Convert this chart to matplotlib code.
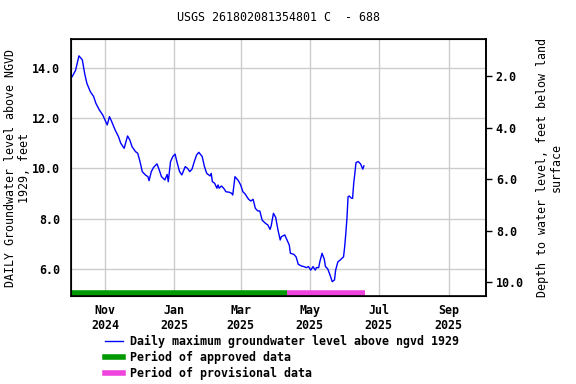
import matplotlib
matplotlib.use("Agg")
import matplotlib.pyplot as plt
import matplotlib.dates as mdates
from matplotlib.lines import Line2D
import pandas as pd

# daily maximum groundwater level above NGVD 1929
dates = ['2024-10-03', '2024-10-06', '2024-10-09', '2024-10-12', '2024-10-14', '2024-10-16',
         '2024-10-19', '2024-10-22', '2024-10-24', '2024-10-27', '2024-10-30', '2024-11-01',
         '2024-11-03', '2024-11-05', '2024-11-07', '2024-11-10', '2024-11-13', '2024-11-15',
         '2024-11-18', '2024-11-21', '2024-11-23', '2024-11-25', '2024-11-28', '2024-11-30',
         '2024-12-02', '2024-12-04', '2024-12-07', '2024-12-09', '2024-12-10', '2024-12-12',
         '2024-12-14', '2024-12-17', '2024-12-19', '2024-12-21', '2024-12-24', '2024-12-26',
         '2024-12-27', '2024-12-29', '2024-12-31', '2025-01-02', '2025-01-04', '2025-01-06',
         '2025-01-08', '2025-01-11', '2025-01-13', '2025-01-15', '2025-01-17', '2025-01-19',
         '2025-01-21', '2025-01-23', '2025-01-26', '2025-01-28', '2025-01-30', '2025-02-02',
         '2025-02-03', '2025-02-04', '2025-02-06', '2025-02-08', '2025-02-09', '2025-02-10',
         '2025-02-12', '2025-02-14', '2025-02-16', '2025-02-19', '2025-02-21', '2025-02-22',
         '2025-02-24', '2025-02-27', '2025-03-01', '2025-03-03', '2025-03-05', '2025-03-08',
         '2025-03-10', '2025-03-12', '2025-03-14', '2025-03-16', '2025-03-18', '2025-03-20',
         '2025-03-23', '2025-03-25', '2025-03-27', '2025-03-28', '2025-03-30', '2025-04-01',
         '2025-04-03', '2025-04-05', '2025-04-06', '2025-04-09', '2025-04-11', '2025-04-13',
         '2025-04-14', '2025-04-17', '2025-04-19', '2025-04-21', '2025-04-24', '2025-04-26',
         '2025-04-28', '2025-04-30', '2025-05-02', '2025-05-04', '2025-05-06', '2025-05-07',
         '2025-05-09', '2025-05-10', '2025-05-12', '2025-05-14', '2025-05-15', '2025-05-17',
         '2025-05-19', '2025-05-21', '2025-05-23', '2025-05-24', '2025-05-26', '2025-05-28',
         '2025-05-31', '2025-06-01', '2025-06-02', '2025-06-03', '2025-06-04', '2025-06-05',
         '2025-06-07', '2025-06-08', '2025-06-09', '2025-06-10', '2025-06-11', '2025-06-13',
         '2025-06-15', '2025-06-17', '2025-06-18']
levels = [13.65, 13.90, 14.48, 14.32, 13.79, 13.39,
          13.06, 12.86, 12.59, 12.33, 12.13, 11.93,
          11.73, 12.06, 11.86, 11.53, 11.26, 11.00,
          10.80, 11.29, 11.13, 10.86, 10.67, 10.60,
          10.27, 9.87, 9.73, 9.67, 9.51, 9.87,
          10.04, 10.18, 9.94, 9.67, 9.54, 9.76,
          9.47, 10.27, 10.47, 10.57, 10.20, 9.87,
          9.74, 10.07, 10.00, 9.87, 9.97, 10.27,
          10.53, 10.64, 10.47, 10.07, 9.80, 9.70,
          9.80, 9.47, 9.41, 9.21, 9.34, 9.21,
          9.30, 9.21, 9.07, 9.05, 9.01, 8.94,
          9.67, 9.51, 9.34, 9.07, 8.98, 8.77,
          8.70, 8.77, 8.41, 8.31, 8.30, 7.94,
          7.81, 7.75, 7.57, 7.71, 8.21, 8.05,
          7.55, 7.15, 7.28, 7.35, 7.15, 6.95,
          6.62, 6.58, 6.48, 6.18, 6.11, 6.09,
          6.05, 6.09, 5.95, 6.09, 5.95, 6.05,
          6.05, 6.28, 6.62, 6.38, 6.09, 6.00,
          5.76, 5.49, 5.56, 5.95, 6.28, 6.35,
          6.48, 6.88, 7.41, 8.01, 8.87, 8.90,
          8.81, 8.81, 9.41, 9.80, 10.23, 10.27,
          10.18, 9.97, 10.10]

approved = ['2024-10-02', '2025-04-11']
provisional = ['2025-04-11', '2025-06-19']

title = 'USGS 261802081354801 C  - 688'
left_label = 'DAILY Groundwater level above NGVD\n1929, feet'
right_label = 'Depth to water level, feet below land\nsurface'
left_ticks = [6.0, 8.0, 10.0, 12.0, 14.0]
right_ticks = [2.0, 4.0, 6.0, 8.0, 10.0]

plt.rcParams['font.family'] = 'DejaVu Sans Mono'
plt.rcParams['font.weight'] = 'bold'
plt.rcParams['font.size'] = 8.4

fig = plt.figure(figsize=(5.76, 3.84), dpi=100)
ax = fig.add_axes([0.1233, 0.2292, 0.7205, 0.6692])

x = pd.to_datetime(dates)
ax.plot(x, levels, color='#0000ff', linewidth=1)

bar_y = 5.04
ax.hlines(bar_y, pd.Timestamp(approved[0]), pd.Timestamp(approved[1]),
          color='#009900', linewidth=4)
ax.hlines(bar_y, pd.Timestamp(provisional[0]), pd.Timestamp(provisional[1]),
          color='#ee44dd', linewidth=4)

ax.set_xlim(pd.Timestamp('2024-10-02'), pd.Timestamp('2025-10-04'))
ax.set_ylim(4.92, 15.15)
ax.set_yticks(left_ticks)
ax.set_yticklabels(['%.1f' % v for v in left_ticks])
ax.xaxis.set_major_locator(mdates.MonthLocator(bymonth=[1, 3, 5, 7, 9, 11]))
ax.xaxis.set_major_formatter(mdates.DateFormatter('%b\n%Y'))
ax.grid(True, color='#cccccc', linewidth=1)
ax.set_axisbelow(True)
ax.tick_params(axis='x', length=0, pad=6)
ax.tick_params(axis='y', length=0, pad=8)
for s in ax.spines.values():
    s.set_linewidth(1.2)
ax.set_ylabel(left_label, fontsize=8.4, labelpad=1, linespacing=1.05)
ax.set_title(title, fontsize=8.4, pad=13)

ax2 = ax.twinx()
ax2.set_ylim(10.54, 0.56)
ax2.set_yticks(right_ticks)
ax2.set_yticklabels(['%.1f' % v for v in right_ticks])
ax2.tick_params(axis='y', length=4, width=1, pad=3, direction='out')
ax2.spines['right'].set_linewidth(1.2)
ax2.set_ylabel(right_label, fontsize=8.4, labelpad=9, linespacing=1.05)

handles = [Line2D([], [], color='#0000ff', linewidth=1),
           Line2D([], [], color='#009900', linewidth=4),
           Line2D([], [], color='#ee44dd', linewidth=4)]
labels = ['Daily maximum groundwater level above ngvd 1929',
          'Period of approved data',
          'Period of provisional data']
fig.legend(handles, labels, loc='upper left', bbox_to_anchor=(0.182, 0.127),
           frameon=False, handlelength=1.6, handletextpad=0.6,
           labelspacing=0.25, borderaxespad=0, borderpad=0)

fig.savefig('out.png', dpi=100)
